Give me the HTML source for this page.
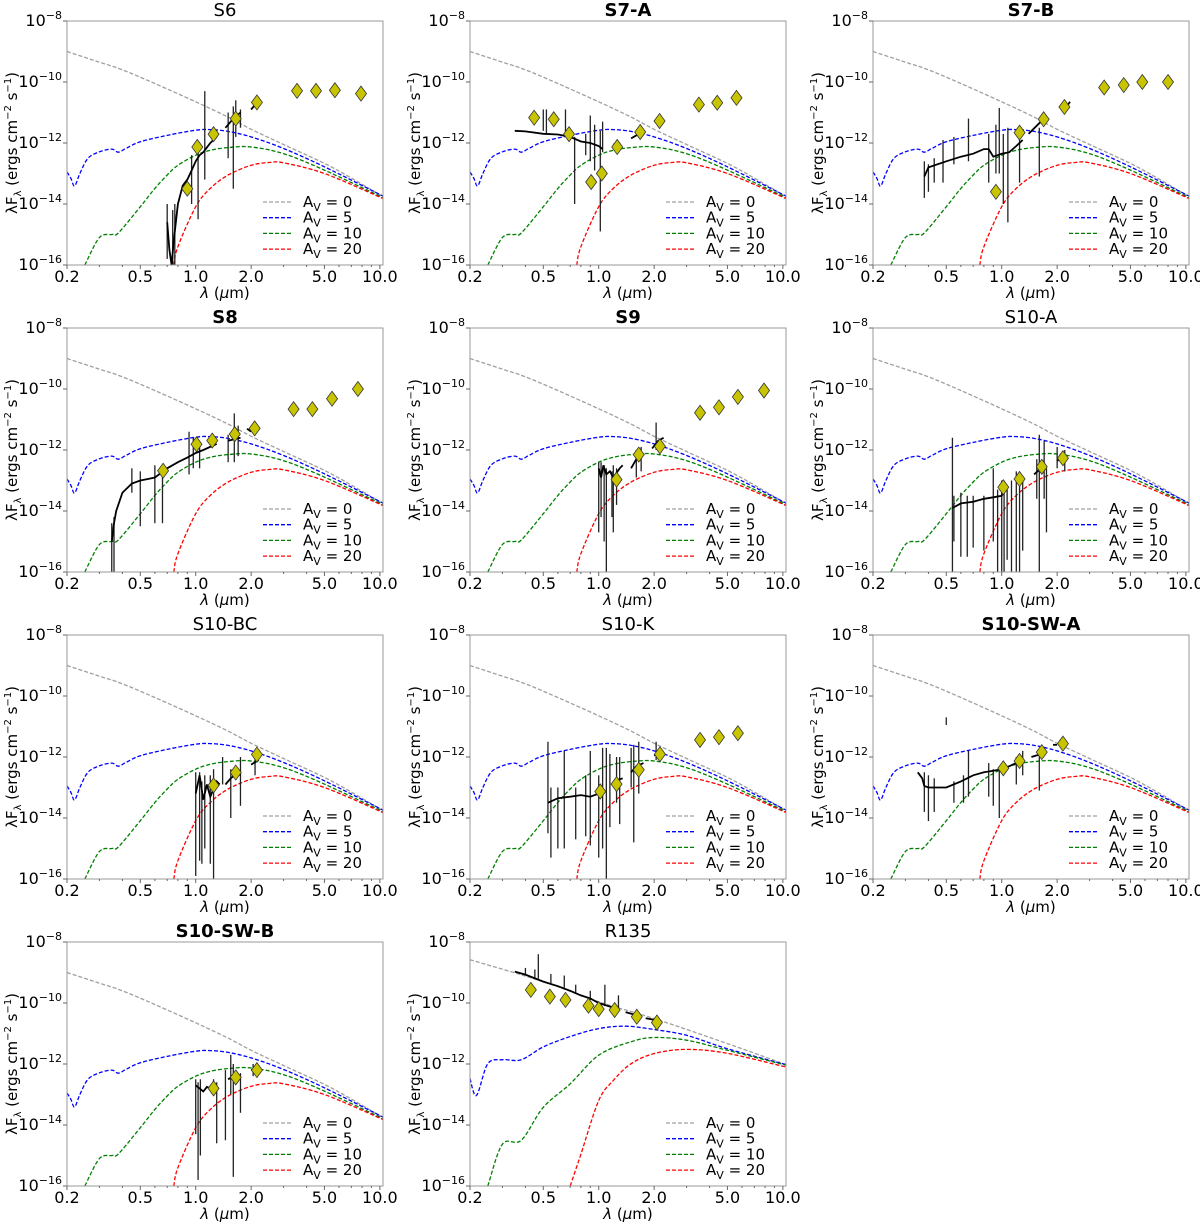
<!DOCTYPE html>
<html><head><meta charset="utf-8"><style>
html,body{margin:0;padding:0;background:#fff;}
svg text{font-family:"DejaVu Sans","Liberation Sans",sans-serif;fill:#000;}
</style></head><body>
<svg id="fig" xmlns="http://www.w3.org/2000/svg" width="1200" height="1225" viewBox="0 0 1200 1225"></svg>
<script>
// ---- model curves (log10 flux) ----
const grayLam=[0.2,0.3,0.4,0.6,1.0,1.5,2,3,5,7,10.4];
const grayVal=[-9.0,-9.35,-9.6,-10.05,-10.65,-11.15,-11.55,-12.05,-12.67,-13.15,-13.76];
const blueLam=[0.2,0.21,0.22,0.235,0.26,0.3,0.35,0.38,0.42,0.5,0.7,1.0,1.2,1.5,2,3,5,10.4];
const blueVal=[-12.95,-13.16,-13.41,-13.0,-12.5,-12.29,-12.2,-12.3,-12.17,-11.96,-11.75,-11.58,-11.56,-11.62,-11.8,-12.18,-12.78,-13.74];
const greenLam=[0.25,0.3,0.35,0.38,0.5,0.6,0.7,0.8,1.0,1.2,1.5,2,3,5,10.4];
const greenVal=[-16.0,-15.1,-15.0,-14.95,-14.09,-13.49,-13.05,-12.73,-12.4,-12.24,-12.15,-12.13,-12.35,-12.89,-13.79];
const redLam=[0.76,0.8,1.0,1.2,1.5,2,2.5,3,5,10.4];
const redVal=[-16,-15.4,-14.09,-13.49,-13.05,-12.73,-12.64,-12.65,-13.0,-13.82];
// R135 models
const rGrayLam=[0.2,0.5,1.0,2,5,10.4];
const rGrayVal=[-8.58,-9.3,-9.96,-10.51,-11.33,-12.02];
const rBlueLam=[0.2,0.217,0.25,0.3,0.38,0.5,0.7,1.0,1.4,2,3,5,10.4];
const rBlueVal=[-12.48,-13.03,-11.99,-11.86,-11.86,-11.44,-11.1,-10.84,-10.76,-10.87,-11.06,-11.5,-12.02];
const rGreenLam=[0.25,0.3,0.38,0.5,0.7,1.0,1.5,2,3,5,10.4];
const rGreenVal=[-16,-14.63,-14.5,-13.42,-12.65,-11.71,-11.27,-11.13,-11.22,-11.55,-12.04];
const rRedLam=[0.7,0.8,1.0,1.2,1.5,2,3,5,10.4];
const rRedVal=[-16,-14.96,-13.2,-12.54,-11.99,-11.66,-11.52,-11.65,-12.1];

const xTicks=[0.2,0.5,1.0,2.0,5.0,10.0];
const xTickLabels=["0.2","0.5","1.0","2.0","5.0","10.0"];
const xMinor=[0.3,0.4,0.6,0.7,0.8,0.9,3,4,6,7,8,9];
const yTicks=[-8,-10,-12,-14,-16];
const legendLabels=["0","5","10","20"];

// ---- per-panel data ----
const s6Phot=[[0.9,-13.5],[1.02,-12.13],[1.25,-11.71],[1.65,-11.2],[2.15,-10.67],[3.55,-10.29],[4.5,-10.29],[5.7,-10.27],[7.9,-10.38]];
const s6Spec=[[[0.7,-14.6],[0.72,-15.5],[0.74,-16],[0.76,-15.2],[0.8,-14.0],[0.85,-13.4],[0.9,-13.2],[0.95,-12.9],[1.0,-12.6],[1.05,-12.4],[1.1,-12.3],[1.2,-12.0],[1.3,-11.8]],[[1.45,-11.5],[1.5,-11.4],[1.6,-11.2],[1.75,-11.0]],[[2.0,-10.9],[2.1,-10.75],[2.2,-10.65]]];
const s6Spk=[[0.7,-15.8,-14.0],[0.75,-16,-14.2],[0.77,-16,-14.0],[0.95,-14,-12.4],[1.03,-14.5,-12.2],[1.12,-13.2,-10.3],[1.5,-12.5,-11.0],[1.6,-13.5,-10.8],[1.65,-11.8,-10.6],[1.75,-11.5,-10.9]];

const s7aPhot=[[0.446,-11.17],[0.57,-11.22],[0.69,-11.71],[0.91,-13.28],[1.04,-13.0],[1.26,-12.13],[1.68,-11.64],[2.14,-11.28],[3.5,-10.74],[4.4,-10.68],[5.6,-10.52]];
const s7aSpec=[[[0.35,-11.6],[0.4,-11.62],[0.5,-11.7],[0.6,-11.72],[0.7,-11.8],[0.8,-11.95],[0.9,-12.0],[1.0,-12.1],[1.05,-12.2]],[[1.2,-12.05],[1.3,-12.0]],[[1.5,-11.85],[1.6,-11.75],[1.75,-11.7]],[[2.0,-11.3],[2.2,-11.15]]];
const s7aSpk=[[0.5,-11.6,-10.9],[0.52,-11.7,-10.9],[0.66,-11.8,-10.9],[0.74,-14.0,-11.8],[0.85,-12.4,-11.7],[0.9,-12.6,-11.1],[0.95,-12.9,-11.4],[1.02,-14.9,-11.6],[1.05,-12.3,-11.3]];

const s7bPhot=[[0.93,-13.6],[1.25,-11.66],[1.69,-11.22],[2.19,-10.82],[3.6,-10.18],[4.6,-10.1],[5.8,-10.0],[8.0,-10.0]];
const s7bSpec=[[[0.38,-13.1],[0.4,-12.8],[0.5,-12.6],[0.6,-12.45],[0.7,-12.35],[0.8,-12.2],[0.85,-12.2],[0.9,-12.45],[1.0,-12.35],[1.1,-12.3],[1.2,-12.1],[1.3,-11.9]],[[1.4,-11.7],[1.6,-11.35],[1.75,-11.1]],[[2.2,-10.9],[2.35,-10.65]]];
const s7bSpk=[[0.38,-13.8,-12.6],[0.4,-13.6,-12.7],[0.43,-13.3,-12.5],[0.48,-13.3,-11.9],[0.55,-12.7,-11.8],[0.66,-12.6,-11.2],[0.85,-13.3,-11.7],[0.93,-13.0,-11.4],[0.97,-13.0,-10.85],[1.02,-14.0,-11.7],[1.08,-14.6,-11.5],[1.25,-13.3,-11.8],[1.6,-13.1,-11.5]];

const s8Phot=[[0.665,-12.68],[1.01,-11.81],[1.23,-11.69],[1.63,-11.48],[2.09,-11.29],[3.4,-10.66],[4.3,-10.66],[5.5,-10.32],[7.6,-10.0]];
const s8Spec=[[[0.35,-15.0],[0.36,-14.4],[0.37,-14.0],[0.4,-13.4],[0.45,-13.1],[0.5,-13.0],[0.55,-12.95],[0.6,-12.9],[0.7,-12.6],[0.8,-12.4],[0.9,-12.25],[1.0,-12.1],[1.1,-12.0],[1.3,-11.8]],[[1.5,-11.7],[1.75,-11.6]],[[1.9,-11.3],[2.0,-11.4]]];
const s8Spk=[[0.35,-16,-14.4],[0.36,-16,-14.2],[0.45,-13.4,-12.6],[0.5,-14.5,-12.7],[0.6,-14.4,-12.5],[0.66,-14.4,-12.6],[0.92,-12.8,-11.4],[0.97,-12.6,-11.6],[1.05,-12.6,-11.9],[1.5,-12.4,-11.5],[1.62,-12.4,-10.8],[1.7,-12.2,-11.2]];

const s9Phot=[[1.25,-12.97],[1.65,-12.15],[2.15,-11.88],[3.55,-10.78],[4.5,-10.6],[5.7,-10.26],[7.9,-10.05]];
const s9Spec=[[[1.0,-12.6],[1.03,-12.9],[1.06,-12.5],[1.1,-12.8],[1.15,-12.7],[1.2,-12.9],[1.3,-12.6],[1.35,-12.5]],[[1.5,-12.6],[1.6,-12.3],[1.75,-12.1]],[[1.95,-11.95],[2.1,-11.7],[2.25,-11.6]]];
const s9Spk=[[1.0,-14.7,-12.4],[1.03,-14.2,-12.4],[1.07,-15.0,-12.5],[1.1,-16,-12.6],[1.18,-14.2,-12.7],[1.2,-14.7,-12.5],[1.25,-13.8,-12.6],[1.6,-12.9,-12.0],[1.7,-12.7,-11.9],[2.05,-12.0,-11.1]];

const s10aPhot=[[1.02,-13.22],[1.25,-12.95],[1.65,-12.55],[2.15,-12.27]];
const s10aSpec=[[[0.54,-13.9],[0.6,-13.75],[0.7,-13.7],[0.8,-13.6],[0.9,-13.55],[1.0,-13.5],[1.05,-13.2]],[[1.2,-13.0],[1.3,-12.9]],[[1.5,-12.8],[1.6,-12.65],[1.75,-12.55]],[[2.0,-12.35],[2.2,-12.25]]];
const s10aSpk=[[0.54,-16,-11.6],[0.55,-15,-13.5],[0.6,-15.5,-13.4],[0.65,-15.5,-13.5],[0.7,-15.2,-13.5],[0.8,-15.3,-13.5],[0.9,-15.0,-12.6],[0.95,-16,-13.3],[1.0,-16,-13.0],[1.03,-16,-13.0],[1.07,-15.6,-13.3],[1.13,-16,-13.0],[1.2,-16,-12.7],[1.25,-16,-12.8],[1.3,-15.3,-12.9],[1.55,-13.6,-12.3],[1.6,-16,-11.5],[1.7,-13.6,-11.7],[1.75,-14.7,-12.6],[2.0,-12.6,-11.9],[2.2,-12.7,-12.0]];

const s10bcPhot=[[1.25,-12.93],[1.65,-12.51],[2.15,-11.92]];
const s10bcSpec=[[[1.0,-13.2],[1.05,-12.6],[1.1,-13.4],[1.15,-12.9],[1.2,-13.3],[1.3,-12.8],[1.35,-12.9]],[[1.45,-12.9],[1.55,-12.7],[1.7,-12.5],[1.75,-12.6]],[[2.0,-12.25],[2.2,-12.1]]];
const s10bcSpk=[[1.0,-15.9,-12.5],[1.05,-15.4,-12.5],[1.08,-15.5,-12.8],[1.12,-15.0,-12.6],[1.2,-15.5,-12.6],[1.25,-16,-12.4],[1.4,-12.9,-12.0],[1.55,-14.0,-12.4],[1.75,-13.6,-12.0],[2.1,-12.6,-11.8]];

const s10kPhot=[[1.02,-13.13],[1.25,-12.89],[1.65,-12.42],[2.15,-11.91],[3.55,-11.44],[4.5,-11.35],[5.7,-11.22]];
const s10kSpec=[[[0.53,-13.5],[0.6,-13.35],[0.7,-13.3],[0.8,-13.25],[0.9,-13.3],[1.0,-13.2],[1.05,-13.1]],[[1.2,-12.8],[1.35,-12.7]],[[1.5,-12.5],[1.6,-12.3],[1.75,-12.2]],[[2.0,-11.95],[2.2,-11.85]]];
const s10kSpk=[[0.53,-14.5,-11.5],[0.55,-15.3,-13.0],[0.6,-15.0,-13.0],[0.65,-15.0,-11.8],[0.75,-14.7,-13.0],[0.85,-14.6,-12.6],[0.9,-14.9,-11.8],[1.0,-15.3,-12.6],[1.05,-15.0,-11.7],[1.1,-16,-11.7],[1.15,-14.3,-11.9],[1.25,-13.5,-12.0],[1.3,-14.2,-12.0],[1.5,-13.0,-11.7],[1.55,-14.8,-11.6],[1.65,-13.2,-11.5],[2.05,-12.1,-11.5]];

const s10swaPhot=[[1.02,-12.37],[1.25,-12.13],[1.65,-11.84],[2.15,-11.56]];
const s10swaSpec=[[[0.35,-12.5],[0.37,-12.7],[0.38,-12.95],[0.4,-13.0],[0.5,-13.0],[0.6,-12.8],[0.7,-12.6],[0.8,-12.5],[0.9,-12.45],[1.0,-12.4],[1.1,-12.3],[1.3,-12.1]],[[1.45,-12.0],[1.75,-11.85]],[[1.9,-11.6],[2.0,-11.6]]];
const s10swaSpk=[[0.38,-13.8,-12.5],[0.4,-14.1,-12.6],[0.43,-13.8,-12.7],[0.5,-10.95,-10.7],[0.55,-13.5,-12.8],[0.62,-13.5,-12.6],[0.66,-13.3,-11.8],[0.85,-13.3,-12.2],[0.9,-13.6,-12.4],[0.97,-14.0,-12.4],[1.2,-12.9,-12.0],[1.3,-12.6,-11.8],[1.6,-13.1,-11.8]];

const s10swbPhot=[[1.25,-12.8],[1.65,-12.44],[2.15,-12.2]];
const s10swbSpec=[[[1.0,-12.7],[1.05,-12.8],[1.1,-12.9],[1.15,-12.75],[1.2,-12.8],[1.3,-12.8]],[[1.5,-12.5],[1.6,-12.4],[1.75,-12.5]],[[2.0,-12.2],[2.2,-12.15]]];
const s10swbSpk=[[1.0,-14.3,-12.5],[1.03,-15.8,-12.6],[1.06,-15.0,-12.5],[1.25,-13.0,-12.5],[1.3,-14.6,-12.6],[1.45,-14.5,-12.2],[1.55,-13.0,-11.7],[1.6,-15.7,-12.0],[1.75,-13.6,-12.3],[2.05,-12.4,-12.0]];

const r135Phot=[[0.428,-9.57],[0.543,-9.79],[0.66,-9.9],[0.88,-10.09],[1.0,-10.2],[1.22,-10.23],[1.61,-10.45],[2.07,-10.64]];
const r135Spec=[[[0.35,-8.97],[0.4,-9.07],[0.5,-9.3],[0.6,-9.45],[0.7,-9.6],[0.8,-9.75],[0.9,-9.85],[1.0,-10.0],[1.2,-10.15]],[[1.4,-10.3],[1.6,-10.4]],[[1.8,-10.5],[2.0,-10.55]]];
const r135Spk=[[0.4,-9.1,-8.85],[0.45,-9.2,-8.9],[0.47,-9.2,-8.4],[0.55,-9.35,-9.05],[0.65,-9.5,-9.1],[0.75,-9.7,-9.4],[0.9,-9.9,-9.6],[1.08,-10.1,-9.4],[1.28,-10.2,-9.75]];

const stdModels=[[grayLam,grayVal],[blueLam,blueVal],[greenLam,greenVal],[redLam,redVal]];
const r135Models=[[rGrayLam,rGrayVal],[rBlueLam,rBlueVal],[rGreenLam,rGreenVal],[rRedLam,rRedVal]];
const modelColors=["#a0a0a0","#0000ff","#008000","#ff0000"];

const panels=[
 {t:"S6",b:false,c:0,r:0,p:s6Phot,s:s6Spec,k:s6Spk,m:stdModels},
 {t:"S7-A",b:true,c:1,r:0,p:s7aPhot,s:s7aSpec,k:s7aSpk,m:stdModels},
 {t:"S7-B",b:true,c:2,r:0,p:s7bPhot,s:s7bSpec,k:s7bSpk,m:stdModels},
 {t:"S8",b:true,c:0,r:1,p:s8Phot,s:s8Spec,k:s8Spk,m:stdModels},
 {t:"S9",b:true,c:1,r:1,p:s9Phot,s:s9Spec,k:s9Spk,m:stdModels},
 {t:"S10-A",b:false,c:2,r:1,p:s10aPhot,s:s10aSpec,k:s10aSpk,m:stdModels},
 {t:"S10-BC",b:false,c:0,r:2,p:s10bcPhot,s:s10bcSpec,k:s10bcSpk,m:stdModels},
 {t:"S10-K",b:false,c:1,r:2,p:s10kPhot,s:s10kSpec,k:s10kSpk,m:stdModels},
 {t:"S10-SW-A",b:true,c:2,r:2,p:s10swaPhot,s:s10swaSpec,k:s10swaSpk,m:stdModels},
 {t:"S10-SW-B",b:true,c:0,r:3,p:s10swbPhot,s:s10swbSpec,k:s10swbSpk,m:stdModels},
 {t:"R135",b:false,c:1,r:3,p:r135Phot,s:r135Spec,k:r135Spk,m:r135Models}
];

const NS="http://www.w3.org/2000/svg";
const svg=document.getElementById('fig');
const colX=[67,470,873], rowY=[21,328,635,942], W=316, H=244;
const XMIN=Math.log10(0.2), XMAX=Math.log10(10.4), YMIN=-16, YMAX=-8;
function mk(tag,attrs,parent){const e=document.createElementNS(NS,tag);for(const k in attrs)e.setAttribute(k,attrs[k]);(parent||svg).appendChild(e);return e;}
function smooth(pts){
 if(pts.length<3)return 'M'+pts.map(p=>p.join(',')).join(' L');
 let d='M'+pts[0][0].toFixed(1)+','+pts[0][1].toFixed(1);
 for(let i=0;i<pts.length-1;i++){
  const p0=pts[i-1]||pts[i],p1=pts[i],p2=pts[i+1],p3=pts[i+2]||p2;
  const c1=[p1[0]+(p2[0]-p0[0])/6,p1[1]+(p2[1]-p0[1])/6];
  const c2=[p2[0]-(p3[0]-p1[0])/6,p2[1]-(p3[1]-p1[1])/6];
  d+=' C'+c1.map(v=>v.toFixed(1)).join(',')+' '+c2.map(v=>v.toFixed(1)).join(',')+' '+p2.map(v=>v.toFixed(1)).join(',');
 }
 return d;
}

panels.forEach((P,i)=>{
 const x0=colX[P.c], y0=rowY[P.r];
 const sx=l=>x0+(Math.log10(l)-XMIN)/(XMAX-XMIN)*W;
 const sy=v=>y0+(YMAX-v)/(YMAX-YMIN)*H;
 const g=mk('g',{});
 
 
 const cp=mk('clipPath',{id:'cp'+i},g);
 mk('rect',{x:x0,y:y0,width:W,height:H},cp);
 const plot=mk('g',{'clip-path':'url(#cp'+i+')'},g);
 P.m.forEach((mm,j)=>{
  const pts=mm[0].map((l,q)=>[sx(l),sy(mm[1][q])]);
  const pl=mk('path',{d:smooth(pts),fill:'none',stroke:modelColors[j],'stroke-width':1.3,'stroke-dasharray':'4,2'},plot);
  
  
 });
 P.k.forEach(s=>{
  const ln=mk('line',{x1:sx(s[0]),x2:sx(s[0]),y1:sy(s[1]),y2:sy(s[2]),stroke:'#222','stroke-width':1.3},plot);
  
  
 });
 P.s.forEach(seg=>{
  const pl=mk('polyline',{points:seg.map(p=>sx(p[0]).toFixed(1)+','+sy(p[1]).toFixed(1)).join(' '),fill:'none',stroke:'#000','stroke-width':1.8},plot);
  
  
 });
 P.p.forEach(p=>{
  const cx=sx(p[0]), cy=sy(p[1]);
  const d=mk('polygon',{points:`${cx},${cy-7.5} ${cx+5.5},${cy} ${cx},${cy+7.5} ${cx-5.5},${cy}`,fill:'#c8c400',stroke:'#333','stroke-width':0.8},plot);
  
  
 });
 const fr=mk('rect',{x:x0,y:y0,width:W,height:H,fill:'none',stroke:'#999','stroke-width':1},g);
 
 
 xMinor.forEach(t=>{const X=sx(t);mk('line',{x1:X,x2:X,y1:y0+H,y2:y0+H+2,stroke:'#666'},g);});
 xTicks.forEach((t,q)=>{
  const X=sx(t);
  mk('line',{x1:X,x2:X,y1:y0+H,y2:y0+H+4,stroke:'#666'},g);
  const tx=mk('text',{x:X,y:y0+H+17,'text-anchor':'middle','font-size':16},g);
  tx.textContent=xTickLabels[q];
  
  
 });
 yTicks.forEach(t=>{
  const Y=sy(t);
  mk('line',{x1:x0-4,x2:x0,y1:Y,y2:Y,stroke:'#666'},g);
  const tx=mk('text',{x:x0-5,y:Y+5,'text-anchor':'end','font-size':16},g);
  tx.innerHTML='10<tspan dy="-7" font-size="11">\u2212'+(-t)+'</tspan>';
  
  
 });
 const tt=mk('text',{x:x0+W/2,y:y0-5,'text-anchor':'middle','font-size':18,'font-weight':P.b?'bold':'normal'},g);
 tt.textContent=P.t;
 
 
 const xl=mk('text',{x:x0+W/2,y:y0+H+33,'text-anchor':'middle','font-size':15},g);
 xl.innerHTML='<tspan font-style="italic">\u03bb</tspan> (<tspan font-style="italic">\u03bc</tspan>m)';
 
 
 const yl=mk('text',{x:0,y:0,'text-anchor':'middle','font-size':15,transform:`translate(${x0-50},${y0+H/2}) rotate(-90)`},g);
 yl.innerHTML='\u03bbF<tspan dy="4" font-size="10">\u03bb</tspan><tspan dy="-4"> (ergs cm</tspan><tspan dy="-6" font-size="10">\u22122</tspan><tspan dy="6"> s</tspan><tspan dy="-6" font-size="10">\u22121</tspan><tspan dy="6">)</tspan>';
 
 
 legendLabels.forEach((lab,j)=>{
  const ly=y0+181+j*15.7;
  const lg=mk('g',{},g);
  
  
  mk('line',{x1:x0+196,x2:x0+225,y1:ly,y2:ly,stroke:modelColors[j],'stroke-width':1.3,'stroke-dasharray':'4,2'},lg);
  const tx=mk('text',{x:x0+236,y:ly+5,'font-size':15},lg);
  tx.innerHTML='A<tspan dy="4" font-size="11">V</tspan><tspan dy="-4"> = '+lab+'</tspan>';
 });
});
</script>
</body></html>
